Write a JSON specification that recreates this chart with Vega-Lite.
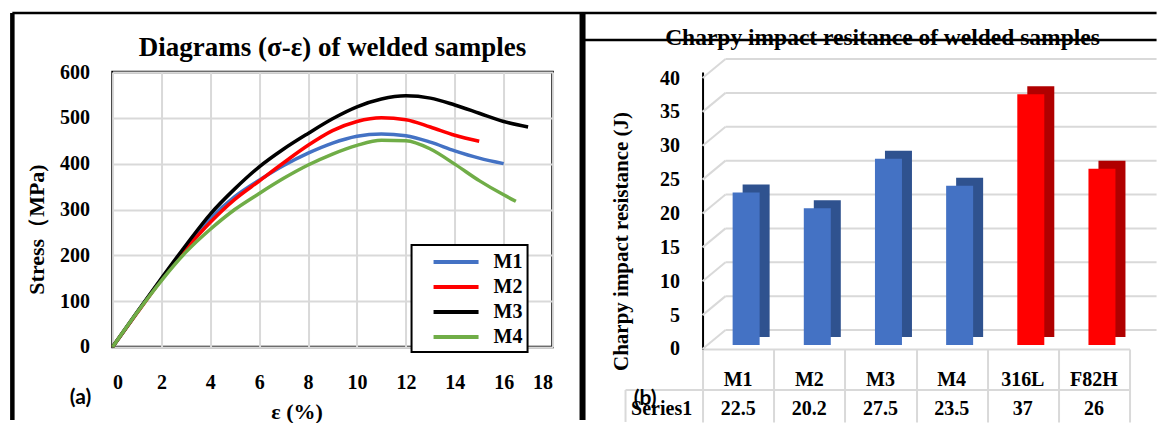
{
  "$schema": "https://vega.github.io/schema/vega-lite/v6.json",
  "background": "white",
  "padding": {"left": 8.55, "top": 8, "right": 0, "bottom": 0},
  "bounds": "flush",
  "spacing": 150,
  "resolve": {"scale": {"color": "independent"}, "legend": {"color": "independent"}},
  "config": {
    "font": "Liberation Serif",
    "axis": {"labelFontWeight": "bold", "labelFontSize": 20, "labelColor": "black", "titleFontWeight": "bold", "titleFontSize": 21, "titleColor": "black", "labelFont": "Liberation Serif", "titleFont": "Liberation Serif", "labelOverlap": false},
    "legend": {"strokeWidth": 2}
  },
  "hconcat": [
    {
      "width": 440,
      "height": 275,
      "view": {"stroke": "black", "strokeWidth": 2.5},
      "layer": [
        {
          "data": {"values": [
            {"sample": "M1", "strain": 0, "stress": 0}, {"sample": "M1", "strain": 1, "stress": 75}, {"sample": "M1", "strain": 2, "stress": 148}, {"sample": "M1", "strain": 3, "stress": 218}, {"sample": "M1", "strain": 4, "stress": 280}, {"sample": "M1", "strain": 5, "stress": 328}, {"sample": "M1", "strain": 6, "stress": 364}, {"sample": "M1", "strain": 7, "stress": 396}, {"sample": "M1", "strain": 8, "stress": 423}, {"sample": "M1", "strain": 9, "stress": 445}, {"sample": "M1", "strain": 10, "stress": 460}, {"sample": "M1", "strain": 11, "stress": 465}, {"sample": "M1", "strain": 12, "stress": 461}, {"sample": "M1", "strain": 13, "stress": 447}, {"sample": "M1", "strain": 14, "stress": 428}, {"sample": "M1", "strain": 15, "stress": 412}, {"sample": "M1", "strain": 16, "stress": 400},
            {"sample": "M2", "strain": 0, "stress": 0}, {"sample": "M2", "strain": 1, "stress": 74}, {"sample": "M2", "strain": 2, "stress": 147}, {"sample": "M2", "strain": 3, "stress": 213}, {"sample": "M2", "strain": 4, "stress": 272}, {"sample": "M2", "strain": 5, "stress": 322}, {"sample": "M2", "strain": 6, "stress": 362}, {"sample": "M2", "strain": 7, "stress": 402}, {"sample": "M2", "strain": 8, "stress": 440}, {"sample": "M2", "strain": 9, "stress": 472}, {"sample": "M2", "strain": 10, "stress": 492}, {"sample": "M2", "strain": 11, "stress": 500}, {"sample": "M2", "strain": 12, "stress": 496}, {"sample": "M2", "strain": 13, "stress": 480}, {"sample": "M2", "strain": 14, "stress": 462}, {"sample": "M2", "strain": 15, "stress": 449},
            {"sample": "M3", "strain": 0, "stress": 0}, {"sample": "M3", "strain": 1, "stress": 76}, {"sample": "M3", "strain": 2, "stress": 150}, {"sample": "M3", "strain": 3, "stress": 222}, {"sample": "M3", "strain": 4, "stress": 290}, {"sample": "M3", "strain": 5, "stress": 345}, {"sample": "M3", "strain": 6, "stress": 393}, {"sample": "M3", "strain": 7, "stress": 432}, {"sample": "M3", "strain": 8, "stress": 466}, {"sample": "M3", "strain": 9, "stress": 498}, {"sample": "M3", "strain": 10, "stress": 524}, {"sample": "M3", "strain": 11, "stress": 541}, {"sample": "M3", "strain": 12, "stress": 548}, {"sample": "M3", "strain": 13, "stress": 543}, {"sample": "M3", "strain": 14, "stress": 528}, {"sample": "M3", "strain": 15, "stress": 510}, {"sample": "M3", "strain": 16, "stress": 492}, {"sample": "M3", "strain": 17, "stress": 480},
            {"sample": "M4", "strain": 0, "stress": 0}, {"sample": "M4", "strain": 1, "stress": 75}, {"sample": "M4", "strain": 2, "stress": 145}, {"sample": "M4", "strain": 3, "stress": 207}, {"sample": "M4", "strain": 4, "stress": 257}, {"sample": "M4", "strain": 5, "stress": 300}, {"sample": "M4", "strain": 6, "stress": 335}, {"sample": "M4", "strain": 7, "stress": 368}, {"sample": "M4", "strain": 8, "stress": 397}, {"sample": "M4", "strain": 9, "stress": 421}, {"sample": "M4", "strain": 10, "stress": 440}, {"sample": "M4", "strain": 11, "stress": 451}, {"sample": "M4", "strain": 12, "stress": 450}, {"sample": "M4", "strain": 13, "stress": 432}, {"sample": "M4", "strain": 14, "stress": 399}, {"sample": "M4", "strain": 15, "stress": 363}, {"sample": "M4", "strain": 16, "stress": 332}, {"sample": "M4", "strain": 16.5, "stress": 318}
          ]},
          "mark": {"type": "line", "interpolate": "monotone", "strokeWidth": 3.5},
          "encoding": {
            "x": {"field": "strain", "type": "quantitative", "scale": {"domain": [0, 18], "nice": false},
                  "axis": {"values": [0, 2, 4, 6, 8, 10, 12, 14, 16, 18], "grid": true, "gridColor": "#d9d9d9", "gridWidth": 2, "ticks": false, "tickSize": 0, "domain": false, "labelPadding": 26, "title": "ε (%)", "titleFontSize": 22, "titleX": 184, "titleY": 65, "titleBaseline": "middle", "titleAlign": "center"}},
            "y": {"field": "stress", "type": "quantitative", "scale": {"domain": [0, 600], "nice": false},
                  "axis": {"values": [0, 100, 200, 300, 400, 500, 600], "grid": true, "gridColor": "#d9d9d9", "gridWidth": 2, "ticks": false, "tickSize": 0, "domain": false, "labelPadding": 23, "title": "Stress（MPa)", "titleFontSize": 22, "titleX": -76, "titleY": 157, "titleBaseline": "middle", "titleAlign": "center", "titleAngle": -90}},
            "color": {"field": "sample", "type": "nominal", "scale": {"domain": ["M1", "M2", "M3", "M4"], "range": ["#4472c4", "#ff0000", "#000000", "#70ad47"]},
                      "legend": {"title": null, "orient": "none", "legendX": 299, "legendY": 173, "symbolType": "M0.5,0H5", "symbolSize": 400, "symbolStrokeWidth": 4, "labelFont": "Liberation Serif", "labelFontWeight": "bold", "labelFontSize": 20, "labelColor": "black", "strokeColor": "black", "fillColor": "white", "padding": 5, "rowPadding": 3, "labelOffset": 53}}
          }
        },
        {
          "data": {"values": [{}]},
          "mark": {"type": "text", "text": "Diagrams  (σ-ε) of welded samples", "font": "Liberation Serif", "fontWeight": "bold", "fontSize": 27, "baseline": "middle", "align": "center", "color": "black"},
          "encoding": {"x": {"datum": 9, "type": "quantitative", "scale": {"domain": [0, 18], "nice": false}}, "y": {"datum": 652.4, "type": "quantitative", "scale": {"domain": [0, 600], "nice": false}}}
        },
        {
          "data": {"values": [{}]},
          "mark": {"type": "text", "text": "(a)", "font": "Lato", "fontWeight": "bold", "fontSize": 21, "baseline": "middle", "align": "center", "color": "black"},
          "encoding": {"x": {"datum": -1.31, "type": "quantitative", "scale": {"domain": [0, 18], "nice": false}}, "y": {"datum": -111, "type": "quantitative", "scale": {"domain": [0, 600], "nice": false}}}
        },
        {
          "data": {"values": [{}]},
          "mark": {"type": "rule", "color": "black", "strokeWidth": 4.5},
          "encoding": {"x": {"datum": -4.099, "type": "quantitative", "scale": {"domain": [0, 18], "nice": false}}, "y": {"datum": 728.7, "type": "quantitative", "scale": {"domain": [0, 600], "nice": false}}, "y2": {"datum": -159.3}}
        },
        {
          "data": {"values": [{}]},
          "mark": {"type": "rule", "color": "black", "strokeWidth": 2.5},
          "encoding": {"x": {"datum": -4.099, "type": "quantitative", "scale": {"domain": [0, 18], "nice": false}}, "x2": {"datum": 42.71}, "y": {"datum": 728.7, "type": "quantitative", "scale": {"domain": [0, 600], "nice": false}}}
        },
        {
          "data": {"values": [{}]},
          "mark": {"type": "rule", "color": "black", "strokeWidth": 6},
          "encoding": {"x": {"datum": 19.227, "type": "quantitative", "scale": {"domain": [0, 18], "nice": false}}, "y": {"datum": 728.7, "type": "quantitative", "scale": {"domain": [0, 600], "nice": false}}, "y2": {"datum": -159.3}}
        },
        {
          "data": {"values": [{}]},
          "mark": {"type": "rule", "color": "black", "strokeWidth": 2.5},
          "encoding": {"x": {"datum": 19.227, "type": "quantitative", "scale": {"domain": [0, 18], "nice": false}}, "x2": {"datum": 42.71}, "y": {"datum": 669.8, "type": "quantitative", "scale": {"domain": [0, 600], "nice": false}}}
        }
      ]
    },
    {
      "width": 427,
      "height": 277,
      "view": {"stroke": null},
      "layer": [
        {
          "data": {"values": [{"g": 0}, {"g": 5}, {"g": 10}, {"g": 15}, {"g": 20}, {"g": 25}, {"g": 30}, {"g": 35}, {"g": 40}]},
          "mark": {"type": "rule", "color": "#d9d9d9", "strokeWidth": 2, "xOffset": -12.6, "x2Offset": 62.6, "yOffset": -19},
          "encoding": {
            "x": {"datum": "M1", "type": "nominal", "scale": {"domain": ["M1", "M2", "M3", "M4", "316L", "F82H"], "paddingInner": 0, "paddingOuter": 0}},
            "x2": {"datum": "F82H"},
            "y": {"field": "g", "type": "quantitative", "scale": {"domain": [0, 40.886], "nice": false, "zero": false}}
          }
        },
        {
          "data": {"values": [{"g": 0}, {"g": 5}, {"g": 10}, {"g": 15}, {"g": 20}, {"g": 25}, {"g": 30}, {"g": 35}, {"g": 40}]},
          "mark": {"type": "rule", "color": "#d9d9d9", "strokeWidth": 2, "xOffset": -35.6, "x2Offset": -12.6, "y2Offset": -19},
          "encoding": {
            "x": {"datum": "M1", "type": "nominal", "scale": {"domain": ["M1", "M2", "M3", "M4", "316L", "F82H"], "paddingInner": 0, "paddingOuter": 0}},
            "x2": {"datum": "M1"},
            "y": {"field": "g", "type": "quantitative", "scale": {"domain": [0, 40.886], "nice": false, "zero": false}},
            "y2": {"field": "g"}
          }
        },
        {
          "data": {"values": [
            {"cat": "M1", "kind": "welded", "v": 22.5}, {"cat": "M2", "kind": "welded", "v": 20.2}, {"cat": "M3", "kind": "welded", "v": 27.5}, {"cat": "M4", "kind": "welded", "v": 23.5}, {"cat": "316L", "kind": "reference", "v": 37}, {"cat": "F82H", "kind": "reference", "v": 26}
          ]},
          "layer": [
            {
              "mark": {"type": "bar", "width": 27, "xOffset": 18, "yOffset": -12, "y2Offset": -12},
              "encoding": {
                "x": {"field": "cat", "type": "nominal", "sort": null, "scale": {"domain": ["M1", "M2", "M3", "M4", "316L", "F82H"], "paddingInner": 0, "paddingOuter": 0},
                      "axis": {"labels": false, "title": null, "ticks": true, "tickBand": "extent", "tickSize": 73, "tickColor": "#d9d9d9", "tickWidth": 2, "domainColor": "#d9d9d9", "domainWidth": 2, "grid": false}},
                "y": {"field": "v", "type": "quantitative", "scale": {"domain": [0, 40.886], "nice": false, "zero": false},
                      "axis": {"values": [0, 5, 10, 15, 20, 25, 30, 35, 40], "tickCount": 9, "labelOverlap": false, "grid": false, "ticks": false, "tickSize": 0, "domainColor": "black", "domainWidth": 2, "labelPadding": 23, "title": "Charpy impact resistance (J)", "titleX": -81, "titleY": 169, "titleBaseline": "middle", "titleAlign": "center", "titleAngle": -90}},
                "color": {"field": "kind", "type": "nominal", "scale": {"domain": ["welded", "reference"], "range": ["#2f528f", "#b00000"]}, "legend": null}
              }
            },
            {
              "mark": {"type": "bar", "width": 27, "xOffset": 8, "yOffset": -4, "y2Offset": -4},
              "encoding": {
                "x": {"field": "cat", "type": "nominal", "sort": null, "scale": {"domain": ["M1", "M2", "M3", "M4", "316L", "F82H"], "paddingInner": 0, "paddingOuter": 0}},
                "y": {"field": "v", "type": "quantitative", "scale": {"domain": [0, 40.886], "nice": false, "zero": false}},
                "color": {"field": "kind", "type": "nominal", "scale": {"domain": ["welded", "reference"], "range": ["#4472c4", "#ff0000"]}, "legend": null}
              }
            },
            {
              "mark": {"type": "text", "font": "Liberation Serif", "fontWeight": "bold", "fontSize": 20, "baseline": "middle", "color": "black"},
              "encoding": {
                "x": {"field": "cat", "type": "nominal", "sort": null, "scale": {"domain": ["M1", "M2", "M3", "M4", "316L", "F82H"], "paddingInner": 0, "paddingOuter": 0}},
                "y": {"datum": -4.58, "type": "quantitative", "scale": {"domain": [0, 40.886], "nice": false, "zero": false}},
                "text": {"field": "cat", "type": "nominal"}
              }
            },
            {
              "mark": {"type": "text", "font": "Liberation Serif", "fontWeight": "bold", "fontSize": 20, "baseline": "middle", "color": "black"},
              "encoding": {
                "x": {"field": "cat", "type": "nominal", "sort": null, "scale": {"domain": ["M1", "M2", "M3", "M4", "316L", "F82H"], "paddingInner": 0, "paddingOuter": 0}},
                "y": {"datum": -8.86, "type": "quantitative", "scale": {"domain": [0, 40.886], "nice": false, "zero": false}},
                "text": {"field": "v", "type": "nominal"}
              }
            }
          ],
          "resolve": {"scale": {"color": "independent"}}
        },
        {
          "data": {"values": [{}]},
          "mark": {"type": "rule", "color": "#d9d9d9", "strokeWidth": 2, "xOffset": -112.6, "x2Offset": 35.6},
          "encoding": {
            "x": {"datum": "M1", "type": "nominal", "scale": {"domain": ["M1", "M2", "M3", "M4", "316L", "F82H"], "paddingInner": 0, "paddingOuter": 0}},
            "x2": {"datum": "F82H"},
            "y": {"datum": -6.05, "type": "quantitative", "scale": {"domain": [0, 40.886], "nice": false, "zero": false}}
          }
        },
        {
          "data": {"values": [{}]},
          "mark": {"type": "rule", "color": "#d9d9d9", "strokeWidth": 2, "xOffset": -112.6},
          "encoding": {"x": {"datum": "M1", "type": "nominal", "scale": {"domain": ["M1", "M2", "M3", "M4", "316L", "F82H"], "paddingInner": 0, "paddingOuter": 0}}, "y": {"datum": -6.05, "type": "quantitative", "scale": {"domain": [0, 40.886], "nice": false, "zero": false}}, "y2": {"datum": -10.77}}
        },
        {
          "data": {"values": [{}]},
          "mark": {"type": "text", "text": "Series1", "font": "Liberation Serif", "fontWeight": "bold", "fontSize": 20, "baseline": "middle", "align": "center", "dx": -76.5, "color": "black"},
          "encoding": {"x": {"datum": "M1", "type": "nominal", "scale": {"domain": ["M1", "M2", "M3", "M4", "316L", "F82H"], "paddingInner": 0, "paddingOuter": 0}}, "y": {"datum": -8.86, "type": "quantitative", "scale": {"domain": [0, 40.886], "nice": false, "zero": false}}}
        },
        {
          "data": {"values": [{}]},
          "mark": {"type": "text", "text": "(b)", "font": "Lato", "fontWeight": "bold", "fontSize": 21, "baseline": "middle", "align": "center", "dx": -93, "color": "black"},
          "encoding": {"x": {"datum": "M1", "type": "nominal", "scale": {"domain": ["M1", "M2", "M3", "M4", "316L", "F82H"], "paddingInner": 0, "paddingOuter": 0}}, "y": {"datum": -7.38, "type": "quantitative", "scale": {"domain": [0, 40.886], "nice": false, "zero": false}}}
        },
        {
          "data": {"values": [{}]},
          "mark": {"type": "text", "text": "Charpy impact resitance of welded samples", "font": "Liberation Serif", "fontWeight": "bold", "fontSize": 23.5, "baseline": "middle", "align": "center", "dx": 2, "color": "black"},
          "encoding": {"x": {"datum": "M3", "type": "nominal", "scale": {"domain": ["M1", "M2", "M3", "M4", "316L", "F82H"], "paddingInner": 0, "paddingOuter": 0}}, "y": {"datum": 45.9, "type": "quantitative", "scale": {"domain": [0, 40.886], "nice": false, "zero": false}}}
        }
      ],
      "resolve": {"scale": {"color": "independent"}}
    }
  ]
}
